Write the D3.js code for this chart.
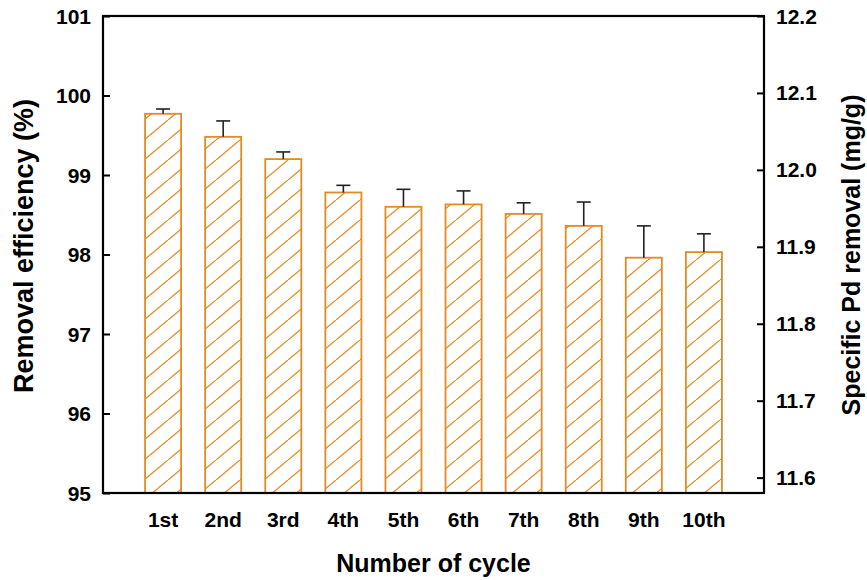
<!DOCTYPE html>
<html>
<head>
<meta charset="utf-8">
<script src="https://cdn.jsdelivr.net/npm/d3@7"></script>
<style>
  html, body { margin: 0; padding: 0; background: #fff; }
  svg { display: block; font-family: "Liberation Sans", Arial, sans-serif; font-weight: bold; }
</style>
</head>
<body>
<svg id="chart" width="867" height="580"></svg>
<script>
// ---- data ----
const categories = ["1st", "2nd", "3rd", "4th", "5th", "6th", "7th", "8th", "9th", "10th"];
const removalEfficiency = [99.77, 99.48, 99.20, 98.78, 98.60, 98.63, 98.51, 98.36, 97.96, 98.03];
const errorValues = [0.06, 0.20, 0.09, 0.09, 0.22, 0.17, 0.14, 0.30, 0.40, 0.23];
const leftTicks = [95, 96, 97, 98, 99, 100, 101];
const rightTicks = [11.6, 11.7, 11.8, 11.9, 12.0, 12.1, 12.2];

// ---- layout ----
const svg = d3.select("#chart");
const L = 103, R = 764, T = 16, B = 493;
const orange = "#e48a22";

const x = d3.scaleLinear().domain([0, categories.length + 1]).range([L, R]);
const yL = d3.scaleLinear().domain([95, 101]).range([B, T]);
const yR = d3.scaleLinear().domain([11.58, 12.2]).range([B, T]);
const barW = (x(1) - x(0)) * 0.6;

// hatch pattern
const defs = svg.append("defs");
const pat = defs.append("pattern")
  .attr("id", "hatch").attr("patternUnits", "userSpaceOnUse")
  .attr("width", 24).attr("height", 20);
pat.append("rect").attr("width", 24).attr("height", 20).attr("fill", "#fff");
pat.append("line").attr("x1", -2).attr("y1", 21.67).attr("x2", 26).attr("y2", -1.67)
  .attr("stroke", orange).attr("stroke-width", 1.3);

// bars
const g = svg.append("g");
categories.forEach((c, i) => {
  const cx = x(i + 1);
  const v = removalEfficiency[i];
  g.append("rect")
    .attr("x", cx - barW / 2).attr("y", yL(v))
    .attr("width", barW).attr("height", yL(95) - yL(v))
    .attr("fill", "url(#hatch)")
    .attr("stroke", orange).attr("stroke-width", 1.8);
  const top = yL(v + errorValues[i]);
  g.append("line").attr("x1", cx).attr("x2", cx).attr("y1", yL(v)).attr("y2", top)
    .attr("stroke", "#222").attr("stroke-width", 1.6);
  g.append("line").attr("x1", cx - 7).attr("x2", cx + 7).attr("y1", top).attr("y2", top)
    .attr("stroke", "#222").attr("stroke-width", 1.6);
});

// axes
const leftAxis = svg.append("g").attr("transform", `translate(${L},0)`)
  .call(d3.axisRight(yL).tickValues(leftTicks).tickSize(7).tickFormat(d3.format("d")));
leftAxis.selectAll("text").remove();
const rightAxis = svg.append("g").attr("transform", `translate(${R},0)`)
  .call(d3.axisLeft(yR).tickValues(rightTicks).tickSize(7).tickFormat(d3.format(".1f")));
rightAxis.selectAll("text").remove();
[leftAxis, rightAxis].forEach(a => {
  a.select(".domain").remove();
  a.selectAll(".tick line").attr("stroke", "#000").attr("stroke-width", 2);
});

// tick labels
svg.append("g").selectAll("text").data(leftTicks).join("text")
  .attr("x", L - 12).attr("y", d => yL(d)).attr("dy", "0.36em")
  .attr("text-anchor", "end").attr("font-size", 21).text(d => d3.format("d")(d));
svg.append("g").selectAll("text").data(rightTicks).join("text")
  .attr("x", R + 12).attr("y", d => yR(d)).attr("dy", "0.36em")
  .attr("text-anchor", "start").attr("font-size", 21).text(d => d3.format(".1f")(d));
svg.append("g").selectAll("text").data(categories).join("text")
  .attr("x", (d, i) => x(i + 1)).attr("y", 527)
  .attr("text-anchor", "middle").attr("font-size", 21).text(d => d);

// frame
svg.append("rect").attr("x", L).attr("y", T).attr("width", R - L).attr("height", B - T)
  .attr("fill", "none").attr("stroke", "#000").attr("stroke-width", 2.2);

// titles
svg.append("text").attr("x", (L + R) / 2).attr("y", 572).attr("text-anchor", "middle")
  .attr("font-size", 25).text("Number of cycle");
svg.append("text").attr("transform", `translate(33,246) rotate(-90)`).attr("text-anchor", "middle")
  .attr("font-size", 27).text("Removal efficiency (%)");
svg.append("text").attr("transform", `translate(860,255) rotate(-90)`).attr("text-anchor", "middle")
  .attr("font-size", 25).text("Specific Pd removal (mg/g)");
</script>
</body>
</html>
